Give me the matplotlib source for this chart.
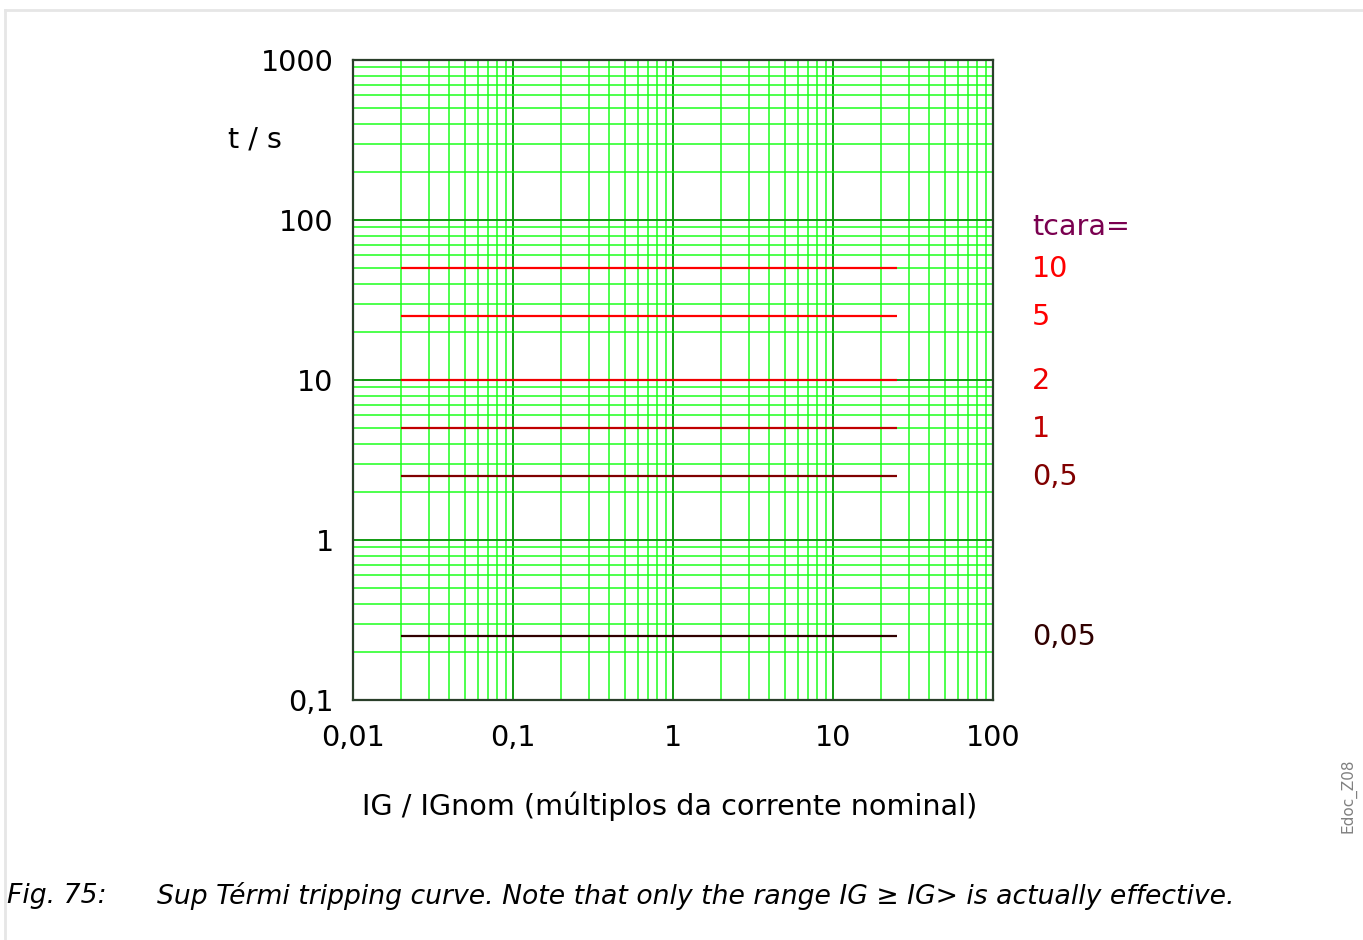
import matplotlib
matplotlib.use("Agg")
import matplotlib.pyplot as plt
from matplotlib.lines import Line2D
from matplotlib.ticker import FixedLocator, LogLocator, NullFormatter

# ---- data ----
tcara_labels = ["10", "5", "2", "1", "0,5", "0,05"]
trip_times = [50, 25, 10, 5, 2.5, 0.25]
curve_colors = ["#ff0000", "#ff0000", "#ee0000", "#c00000", "#800000", "#300000"]
x_range = [0.02, 25]
x_ticks = [0.01, 0.1, 1, 10, 100]
x_tick_labels = ["0,01", "0,1", "1", "10", "100"]
y_ticks = [0.1, 1, 10, 100, 1000]
y_tick_labels = ["0,1", "1", "10", "100", "1000"]

W, H = 1363, 940
FS = 20.6
fig = plt.figure(figsize=(W / 100, H / 100), dpi=100)
plt.rcParams['font.family'] = ['DejaVu Sans']

ax = fig.add_axes([353 / W, 1 - 700 / H, 640 / W, 640 / H])
ax.set_xscale("log")
ax.set_yscale("log")
ax.set_xlim(0.01, 100)
ax.set_ylim(0.1, 1000)

ax.xaxis.set_major_locator(FixedLocator(x_ticks))
ax.yaxis.set_major_locator(FixedLocator(y_ticks))
ax.xaxis.set_minor_locator(LogLocator(base=10, subs=range(2, 10)))
ax.yaxis.set_minor_locator(LogLocator(base=10, subs=range(2, 10)))
ax.xaxis.set_minor_formatter(NullFormatter())
ax.yaxis.set_minor_formatter(NullFormatter())
ax.set_xticklabels(x_tick_labels)
ax.set_yticklabels(y_tick_labels)
ax.tick_params(which="both", length=0, labelsize=FS, colors="black")
ax.tick_params(axis="x", pad=17)
ax.tick_params(axis="y", pad=14)

ax.grid(True, which="minor", color="#1cff1c", linewidth=1.1)
ax.grid(True, which="major", color="#109a10", linewidth=1.4)
ax.set_axisbelow(True)
for s in ax.spines.values():
    s.set_color("#2a3f2a")
    s.set_linewidth(1.6)

for t, c in zip(trip_times, curve_colors):
    ax.plot(x_range, [t, t], color=c, linewidth=1.6, solid_capstyle="butt")

# curve labels
for lab, t, c in zip(tcara_labels, trip_times, curve_colors):
    ax.annotate(lab, xy=(1.0, t), xycoords=("axes fraction", "data"),
                xytext=(39, -1), textcoords="offset pixels",
                ha="left", va="center", fontsize=FS, color=c)
fig.text(1032 / W, 1 - 227 / H, "tcara=", ha="left", va="center",
         fontsize=FS, color="#7a0050")

fig.text(255 / W, 1 - 139 / H, "t / s", ha="center", va="center", fontsize=FS)
fig.text(670 / W, 1 - 806 / H, "IG / IGnom (múltiplos da corrente nominal)",
         ha="center", va="center", fontsize=FS)

fig.text(7 / W, 1 - 896 / H, "Fig. 75:", ha="left", va="center",
         fontsize=19.2, style="italic")
fig.text(157 / W, 1 - 896 / H,
         "Sup Térmi tripping curve. Note that only the range IG ≥ IG> is actually effective.",
         ha="left", va="center", fontsize=19.2, style="italic")

fig.text(1348 / W, 1 - 796 / H, "Edoc_Z08", ha="center", va="center",
         rotation=90, fontsize=11, color="#808080")

# light frame
fig.add_artist(Line2D([5 / W, 5 / W], [0, 1 - 10 / H], transform=fig.transFigure,
                      color="#e6e6e6", linewidth=2))
fig.add_artist(Line2D([5 / W, 1], [1 - 10 / H, 1 - 10 / H], transform=fig.transFigure,
                      color="#e6e6e6", linewidth=2))

fig.savefig("out.png", dpi=100)
